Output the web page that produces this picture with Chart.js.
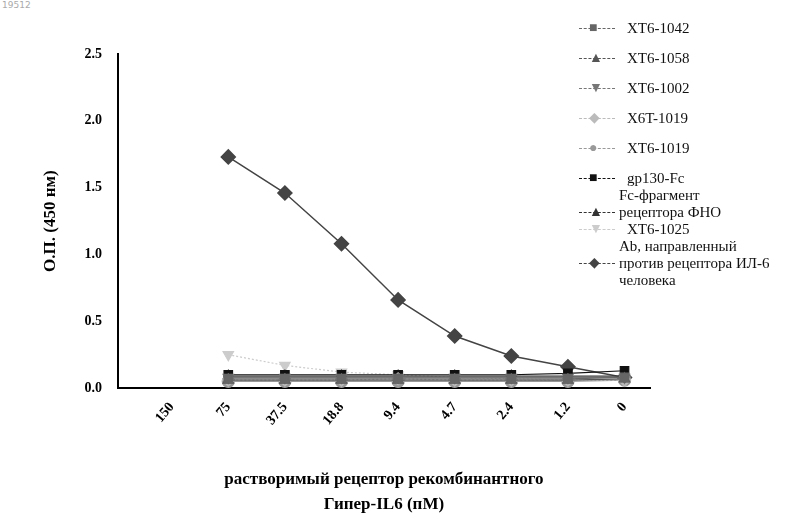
<!DOCTYPE html><html><head><meta charset="utf-8">
<script src="https://cdn.jsdelivr.net/npm/chart.js@4"></script>
<style>body{margin:0;background:#fff;font-family:"Liberation Serif",serif}
#wrap{position:absolute;left:0;top:0;width:680px;height:519px}
#leg{position:absolute;left:575px;top:20px;width:225px;font-size:15px;color:#111}
.it{display:flex;align-items:flex-start;line-height:17px}
.mk{width:44px;flex:none;position:relative;height:17px}
.mk:before{content:"";position:absolute;left:4px;right:4px;top:8px;border-top:1px dashed currentColor}
.mk span{position:absolute;left:14px;top:-1px;font-size:14px}
.tag{position:absolute;left:2px;top:0;font-size:9px;color:#aaa;font-family:"DejaVu Sans"}
</style></head><body>
<div class="tag">19512</div>
<div id="wrap"><canvas id="c"></canvas></div>
<div id="leg"></div>
<script>
const categories=["150","75","37.5","18.8","9.4","4.7","2.4","1.2","0"];
const names=["XT6-1042","XT6-1058","XT6-1002","X6T-1019","XT6-1019","gp130-Fc","Fc-фрагмент\nрецептора ФНО","XT6-1025","Ab, направленный\nпротив рецептора ИЛ-6\nчеловека"];
const v1042=[null,0.07,0.07,0.07,0.07,0.07,0.07,0.07,0.08];
const v1058=[null,0.06,0.06,0.06,0.06,0.06,0.06,0.06,0.07];
const v1002=[null,0.08,0.08,0.08,0.08,0.08,0.08,0.08,0.08];
const v6t1019=[null,0.06,0.06,0.06,0.07,0.06,0.06,0.06,0.06];
const v1019=[null,0.05,0.05,0.05,0.05,0.05,0.05,0.05,0.06];
const vgp130=[null,0.1,0.1,0.1,0.1,0.1,0.1,0.11,0.13];
const vFc=[null,0.09,0.09,0.09,0.09,0.09,0.09,0.09,0.09];
const v1025=[null,0.25,0.17,0.12,0.1,0.08,0.07,0.06,0.06];
const vAb=[null,1.73,1.46,1.08,0.66,0.39,0.24,0.16,0.08];
const series=[v1042,v1058,v1002,v6t1019,v1019,vgp130,vFc,v1025,vAb];
const colors=["#666","#555","#777","#bbb","#999","#111","#333","#ccc","#444"];
const shapes=["rect","triangle","triangle","rectRot","circle","rect","triangle","triangle","rectRot"];
const rots=[0,0,180,0,0,0,0,180,0];
const glyph=["■","▲","▼","◆","●","■","▲","▼","◆"];
const ds=series.map((s,i)=>{const pts=[];s.forEach((y,j)=>{if(y!=null)pts.push({x:j,y:y});});
 return {label:names[i],data:pts,borderColor:colors[i],backgroundColor:colors[i],
 borderWidth:i==8?1.5:1.2,borderDash:(i==3||i==7)?[2,2]:[],pointStyle:shapes[i],rotation:rots[i],pointRadius:i==8?7:6};});
Chart.defaults.font.family='"Liberation Serif",serif';
new Chart(document.getElementById('c'),{type:'line',data:{datasets:ds},options:{responsive:true,maintainAspectRatio:false,animation:false,
 layout:{padding:{top:54,left:36,right:30,bottom:0}},
 plugins:{legend:{display:false},tooltip:{enabled:false}},
 scales:{x:{type:'linear',min:-0.95,max:8.45,grid:{display:false},border:{color:'#000',width:2},
  afterBuildTicks:a=>{a.ticks=categories.map((c,i)=>({value:i}))},
  ticks:{color:'#000',font:{size:14,weight:'bold'},maxRotation:50,minRotation:50,autoSkip:false,callback:(v)=>categories[v]},
  title:{display:true,text:['растворимый рецептор рекомбинантного','Гипер-IL6 (пМ)'],color:'#000',font:{size:17,weight:'bold',lineHeight:1.45},padding:{top:36,bottom:2}}},
 y:{min:0,max:2.5,grid:{display:false},border:{color:'#000',width:2},
  afterBuildTicks:a=>{a.ticks=[0,0.5,1,1.5,2,2.5].map(v=>({value:v}))},
  ticks:{color:'#000',font:{size:14,weight:'bold'},callback:v=>v.toFixed(1),padding:8},
  title:{display:true,text:'О.П. (450 нм)',color:'#000',font:{size:17,weight:'bold'},padding:{bottom:16}}}}}});
const leg=document.getElementById('leg');
names.forEach((n,i)=>{const d=document.createElement('div');d.className='it';
 const lines=n.split('\n');d.style.marginBottom=(i==5||i==6||i==7)?'0px':'13px';
 d.innerHTML=`<div class="mk" style="color:${colors[i]};margin-top:${lines.length>1?17:0}px"><span>${glyph[i]}</span></div><div style="padding-left:${lines.length>1?0:8}px">${lines.join('<br>')}</div>`;
 leg.appendChild(d);});
</script></body></html>
